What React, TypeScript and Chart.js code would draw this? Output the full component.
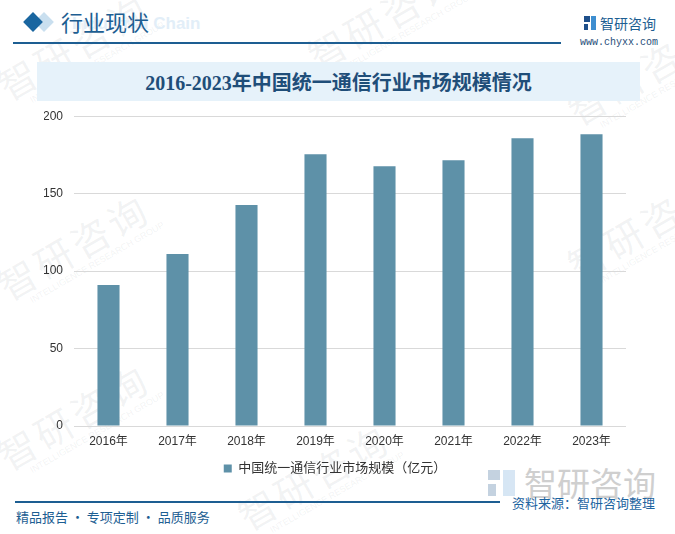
import React, { useEffect, useRef } from "react";
import { Chart, registerables } from "chart.js";

Chart.register(...registerables);

const categories = ["2016年", "2017年", "2018年", "2019年", "2020年", "2021年", "2022年", "2023年"];
const marketSize = [91, 111, 142.6, 175.5, 167.7, 171.6, 185.8, 188.4];
const seriesName = "中国统一通信行业市场规模（亿元）";
const yTickValues = [0, 50, 100, 150, 200];
const chartTitle = "2016-2023年中国统一通信行业市场规模情况";

const BAR_COLOR = "#5E91A8";
const DARK_BLUE = "#1D5E92";
const FONT = '"Liberation Sans", "Noto Sans CJK SC", sans-serif';

const watermarks = [
  { x: -10, y: 70 },
  { x: 300, y: 40 },
  { x: 560, y: 95 },
  { x: -10, y: 270 },
  { x: 560, y: 250 },
  { x: -10, y: 440 },
  { x: 230, y: 500 },
];

function Watermark({ x, y }: { x: number; y: number }) {
  return (
    <div
      style={{
        position: "absolute",
        left: x,
        top: y,
        transform: "rotate(-30deg)",
        transformOrigin: "left top",
        color: "rgba(120,130,140,0.1)",
        fontFamily: '"Noto Sans CJK SC", sans-serif',
        whiteSpace: "nowrap",
        pointerEvents: "none",
      }}
    >
      <div style={{ fontSize: 38, lineHeight: "42px", letterSpacing: 4 }}>智研咨询</div>
      <div style={{ fontSize: 9, lineHeight: "10px", marginLeft: 20, fontFamily: FONT }}>
        INTELLIGENCE RESEARCH GROUP
      </div>
    </div>
  );
}

export default function App() {
  const canvasRef = useRef<HTMLCanvasElement | null>(null);

  useEffect(() => {
    document.body.style.margin = "0";
    const canvas = canvasRef.current;
    if (!canvas) return;
    const chart = new Chart(canvas, {
      type: "bar",
      data: {
        labels: categories,
        datasets: [
          {
            label: seriesName,
            data: marketSize,
            backgroundColor: BAR_COLOR,
            borderWidth: 0,
            barPercentage: 0.32,
            categoryPercentage: 1.0,
          },
        ],
      },
      options: {
        animation: false,
        responsive: false,
        maintainAspectRatio: false,
        devicePixelRatio: 1,
        layout: { padding: { left: 44, right: 49, top: 4, bottom: 0 } },
        plugins: {
          title: { display: false },
          tooltip: { enabled: false },
          legend: {
            display: true,
            position: "bottom",
            labels: {
              boxWidth: 8,
              boxHeight: 8,
              color: "#333333",
              font: { size: 13, family: FONT },
              padding: 10,
            },
          },
        },
        scales: {
          x: {
            grid: { display: false, drawTicks: false },
            border: { display: false },
            ticks: {
              color: "#333333",
              font: { size: 12, family: FONT },
              padding: 8,
              maxRotation: 0,
            },
            afterFit: (s: any) => {
              s.height = 26;
            },
          },
          y: {
            min: 0,
            max: 200,
            afterBuildTicks: (s: any) => {
              s.ticks = yTickValues.map((v) => ({ value: v }));
            },
            grid: { color: "#D9D9D9", lineWidth: 1, drawTicks: false },
            border: { display: false },
            ticks: {
              color: "#333333",
              font: { size: 12, family: FONT },
              padding: 11,
            },
            afterFit: (s: any) => {
              s.width = 30;
            },
          },
        },
      },
    });
    return () => chart.destroy();
  }, []);

  return (
    <div
      style={{
        position: "relative",
        width: 675,
        height: 534,
        background: "#ffffff",
        overflow: "hidden",
        fontFamily: '"Noto Sans CJK SC", sans-serif',
      }}
    >
      {watermarks.map((w, i) => (
        <Watermark key={i} x={w.x} y={w.y} />
      ))}

      {/* header */}
      <div
        style={{
          position: "absolute",
          left: 72,
          top: 14,
          fontFamily: FONT,
          fontWeight: "bold",
          fontSize: 17,
          color: "#E2EEF8",
          whiteSpace: "nowrap",
        }}
      >
        Industrial Chain
      </div>
      <div
        style={{
          position: "absolute",
          left: 37,
          top: 15,
          width: 14,
          height: 14,
          background: "#C9DFEF",
          transform: "rotate(45deg)",
        }}
      />
      <div
        style={{
          position: "absolute",
          left: 26,
          top: 15,
          width: 14,
          height: 14,
          background: "#1A66A0",
          transform: "rotate(45deg)",
        }}
      />
      <div
        style={{
          position: "absolute",
          left: 61,
          top: 6,
          fontSize: 22,
          lineHeight: "30px",
          color: DARK_BLUE,
          whiteSpace: "nowrap",
        }}
      >
        行业现状
      </div>
      <div
        style={{
          position: "absolute",
          left: 13,
          top: 42,
          width: 548,
          height: 1.5,
          background: DARK_BLUE,
        }}
      />
      {/* logo top right */}
      <div style={{ position: "absolute", left: 584, top: 16, width: 12, height: 14 }}>
        <div style={{ position: "absolute", left: 0, top: 0, width: 6, height: 6, background: "#1E4F8A" }} />
        <div style={{ position: "absolute", left: 0, top: 8, width: 4, height: 6, background: "#1E4F8A" }} />
        <div style={{ position: "absolute", left: 7, top: 0, width: 5, height: 14, background: "#3E8ED0" }} />
      </div>
      <div
        style={{
          position: "absolute",
          left: 600,
          top: 13,
          fontSize: 14,
          lineHeight: "20px",
          color: DARK_BLUE,
          whiteSpace: "nowrap",
        }}
      >
        智研咨询
      </div>
      <div
        style={{
          position: "absolute",
          left: 580,
          top: 36,
          fontSize: 10,
          lineHeight: "14px",
          fontFamily: '"Liberation Mono", monospace',
          color: "#1F4E79",
          whiteSpace: "nowrap",
        }}
      >
        www.chyxx.com
      </div>

      {/* title band */}
      <div
        style={{
          position: "absolute",
          left: 37,
          top: 62,
          width: 603,
          height: 39,
          background: "#E6F2FA",
          display: "flex",
          alignItems: "center",
          justifyContent: "center",
          fontFamily: '"Liberation Serif", "Noto Sans CJK SC", serif',
          fontWeight: "bold",
          fontSize: 20,
          color: "#1F4E79",
          whiteSpace: "nowrap",
        }}
      >
        {chartTitle}
      </div>

      {/* big logo bottom right */}
      <div style={{ position: "absolute", left: 488, top: 470, width: 28, height: 26, opacity: 0.35 }}>
        <div style={{ position: "absolute", left: 0, top: 0, width: 12, height: 10, background: "#5A7FA8" }} />
        <div style={{ position: "absolute", left: 0, top: 14, width: 8, height: 12, background: "#5A7FA8" }} />
        <div style={{ position: "absolute", left: 15, top: 0, width: 12, height: 26, background: "#8DB8E0" }} />
      </div>
      <div
        style={{
          position: "absolute",
          left: 524,
          top: 462,
          fontSize: 33,
          lineHeight: "40px",
          color: "#CFCFCF",
          whiteSpace: "nowrap",
          letterSpacing: 0,
        }}
      >
        智研咨询
      </div>

      <canvas
        ref={canvasRef}
        width={675}
        height={387}
        style={{ position: "absolute", left: 0, top: 98, width: 675, height: 387 }}
      />

      {/* footer */}
      <div
        style={{
          position: "absolute",
          left: 15,
          top: 501,
          width: 485,
          height: 1.5,
          background: DARK_BLUE,
        }}
      />
      <div
        style={{
          position: "absolute",
          left: 512,
          top: 494,
          fontSize: 13,
          lineHeight: "18px",
          color: "#1D64A0",
          whiteSpace: "nowrap",
        }}
      >
        资料来源：智研咨询整理
      </div>
      <div
        style={{
          position: "absolute",
          left: 16,
          top: 508,
          fontSize: 13,
          lineHeight: "18px",
          color: DARK_BLUE,
          whiteSpace: "nowrap",
        }}
      >
        精品报告 · 专项定制 · 品质服务
      </div>
    </div>
  );
}
